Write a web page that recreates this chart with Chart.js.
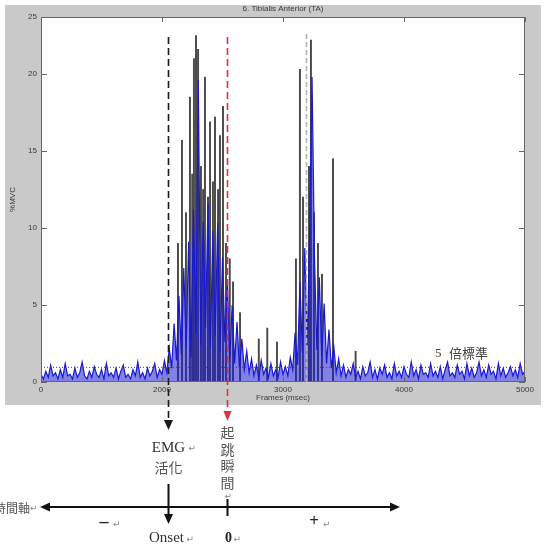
<!DOCTYPE html>
<html>
<head>
<meta charset="utf-8">
<title>6. Tibialis Anterior (TA)</title>
<script src="https://cdn.jsdelivr.net/npm/chart.js@4.4.1/dist/chart.umd.min.js"></script>
<style>
  html, body { margin: 0; padding: 0; background: #fff; }
  canvas { display: block; }
</style>
</head>
<body>
<canvas id="emgChart" width="550" height="556"></canvas>
<script>
// blue trace, one sample every 20 ms starting at frame 1000
const frameStart = 1000;
const frameStep = 20;
const mvcTrace = [
  // 1000 - 2040 resting
  0.5, 0.2, 0.7, 0.3, 1.1, 0.4, 0.6, 0.2, 0.8, 0.3,
  1.2, 0.4, 0.5, 0.2, 0.9, 0.3, 0.6, 1.3, 0.4, 0.2,
  0.7, 0.3, 1.0, 0.5, 0.3, 0.8, 0.2, 1.2, 0.4, 0.6,
  0.3, 0.9, 0.2, 0.7, 1.1, 0.3, 0.5, 0.2, 0.8, 0.4,
  1.3, 0.3, 0.6, 0.2, 0.9, 0.4, 0.7, 1.2, 0.3, 0.8,
  0.5, 1.4, 0.6,
  // 2060 - 2740 first burst
  2.2, 0.9, 3.8, 1.4, 5.6, 1.8, 7.4, 2.3, 9.1, 1.6,
  11.2, 3.1, 19.6, 2.4, 10.4, 3.5, 11.6, 2.2, 9.8, 3.0,
  10.3, 1.9, 8.1, 2.6, 6.4, 1.5, 5.0, 1.2, 3.9, 0.9,
  2.8, 0.8, 2.0, 0.6, 1.5,
  // 2760 - 3060 between bursts
  0.4, 1.1, 0.3, 1.4, 0.5, 0.9, 0.3, 1.2, 0.4, 0.8,
  0.3, 1.3, 0.5, 1.0, 0.4, 1.6,
  // 3080 - 3460 second burst
  0.8, 3.2, 1.1, 6.5, 1.9, 8.7, 2.4, 9.5, 19.8, 8.2,
  2.1, 6.8, 1.7, 5.1, 1.2, 3.4, 0.9, 2.3, 0.6, 1.5,
  // 3480 - 5000 resting
  0.4, 1.1, 0.3, 0.8, 0.5, 1.2, 0.3, 0.7, 0.2, 1.0,
  0.4, 0.6, 1.3, 0.3, 0.8, 0.2, 0.9, 0.5, 1.1, 0.3,
  0.6, 0.2, 1.2, 0.4, 0.7, 0.3, 1.0, 0.5, 0.3, 1.3,
  0.4, 0.8, 0.2, 1.1, 0.5, 0.6, 0.3, 1.2, 0.4, 0.7,
  0.3, 1.0, 0.2, 0.8, 1.3, 0.4, 0.6, 0.3, 1.1, 0.5,
  0.7, 0.2, 1.2, 0.4, 0.9, 0.3, 0.6, 1.3, 0.4, 0.8,
  0.3, 1.1, 0.5, 0.7, 0.2, 1.2, 0.4, 0.9, 0.3, 0.6,
  1.0, 0.4, 0.8, 0.3, 1.2, 0.5, 0.7
];

// dark spikes behind the blue trace
const spikeFrames = [2132, 2165, 2198, 2231, 2250, 2264, 2281, 2298, 2322, 2340,
                     2355, 2380, 2397, 2421, 2438, 2463, 2479, 2504, 2529, 2560,
                     2587, 2645, 2800, 2870, 2950, 3107, 3140, 3165, 3215, 3231,
                     3256, 3289, 3322, 3413, 3600];
const spikeMvc = [9.0, 15.7, 11.0, 18.5, 13.5, 21.0, 22.5, 21.6, 14.0, 12.5,
                  19.8, 12.0, 16.9, 13.0, 17.2, 12.5, 16.0, 17.9, 9.0, 8.0,
                  6.5, 4.5, 2.8, 3.5, 2.6, 8.0, 20.3, 12.0, 14.0, 22.2,
                  11.0, 9.0, 7.0, 14.5, 2.0];

// 5 x SD threshold
const thresholdMvc = 0.95;

// EMG onset, take-off instant, second marker
const markerFrames = [2049, 2535, 3190];
const markerTop = [22.4, 22.4, 22.6];

const xTickValues = [1000, 2000, 3000, 4000, 5000];
const xTickLabels = ['0', '2000', '3000', '4000', '5000'];
const yMax = 23.7;
const yTickValues = [0, 5, 10, 15, 20, yMax];
const yTickLabels = ['0', '5', '10', '15', '20', '25'];

const traceData = mvcTrace.map((v, i) => ({ x: frameStart + i * frameStep, y: v }));
const spikeData = spikeFrames.map((f, i) => ({ x: f, y: spikeMvc[i] }));

Chart.defaults.font.family = "'Liberation Sans', Arial, sans-serif";
Chart.defaults.font.size = 8;
Chart.defaults.color = '#3a3a3a';

const SERIF = "'Liberation Serif', 'Noto Sans CJK TC', serif";
const CJK = "'Noto Sans CJK TC', 'Liberation Serif', serif";

function arrow(ctx, tipX, tipY, angle, len, half) {
    ctx.save();
    ctx.translate(tipX, tipY);
    ctx.rotate(angle);
    ctx.beginPath();
    ctx.moveTo(0, 0);
    ctx.lineTo(-len, -half);
    ctx.lineTo(-len, half);
    ctx.closePath();
    ctx.fill();
    ctx.restore();
}

function returnMark(ctx, x, y) {
    ctx.font = "9px 'DejaVu Sans'";
    ctx.fillStyle = '#888';
    ctx.textAlign = 'left';
    ctx.fillText('\u21B5', x, y);
}

const figurePlugin = {
    id: 'figure',
    beforeDraw(chart) {
        const { ctx, chartArea: a } = chart;
        ctx.save();
        ctx.fillStyle = '#ffffff';
        ctx.fillRect(0, 0, chart.width, chart.height);
        ctx.fillStyle = '#c9c9c9';
        ctx.fillRect(5, 5, 536, 400);
        ctx.fillStyle = '#ffffff';
        ctx.fillRect(a.left, a.top, a.right - a.left, a.bottom - a.top);
        ctx.restore();
    },
    afterDatasetsDraw(chart) {
        const { ctx, chartArea: a, scales: { x, y } } = chart;
        ctx.save();

        // axes box with inward ticks
        ctx.strokeStyle = '#666';
        ctx.lineWidth = 1;
        ctx.strokeRect(a.left + 0.5, a.top + 0.5, a.right - a.left - 1, a.bottom - a.top - 1);
        ctx.beginPath();
        x.ticks.forEach(t => {
            const px = Math.round(x.getPixelForValue(t.value)) + 0.5;
            ctx.moveTo(px, a.top); ctx.lineTo(px, a.top + 5);
            ctx.moveTo(px, a.bottom); ctx.lineTo(px, a.bottom - 5);
        });
        y.ticks.forEach(t => {
            const py = Math.round(y.getPixelForValue(t.value)) + 0.5;
            ctx.moveTo(a.left, py); ctx.lineTo(a.left + 6, py);
            ctx.moveTo(a.right, py); ctx.lineTo(a.right - 6, py);
        });
        ctx.stroke();

        // marker lines, the first two run down into the sketch below
        const colors = ['#1a1a1a', '#e03040', '#b4b4b4'];
        const ends = [419, 410, a.bottom];
        const px = markerFrames.map(f => Math.round(x.getPixelForValue(f)) + 0.5);
        ctx.lineWidth = 1.6;
        markerFrames.forEach((f, i) => {
            ctx.strokeStyle = colors[i];
            ctx.setLineDash(i === 2 ? [5, 3] : [7, 4]);
            ctx.beginPath();
            ctx.moveTo(px[i], y.getPixelForValue(markerTop[i]));
            ctx.lineTo(px[i], ends[i]);
            ctx.stroke();
        });
        ctx.setLineDash([]);
        ctx.fillStyle = colors[0];
        arrow(ctx, px[0], 430, Math.PI / 2, 10, 4.5);
        ctx.fillStyle = colors[1];
        arrow(ctx, px[1], 421, Math.PI / 2, 10, 4);

        // threshold note
        ctx.fillStyle = '#444';
        ctx.textBaseline = 'middle';
        ctx.textAlign = 'left';
        ctx.font = '13px ' + SERIF;
        ctx.fillText('5', 435, 354);
        ctx.font = '13px ' + CJK;
        ctx.fillText('倍標準', 449, 353);

        // EMG activation
        ctx.fillStyle = '#333';
        ctx.textAlign = 'center';
        ctx.font = '15px ' + SERIF;
        ctx.fillText('EMG', px[0], 448);
        returnMark(ctx, px[0] + 20, 449);
        ctx.fillStyle = '#555';
        ctx.textAlign = 'center';
        ctx.font = '14px ' + CJK;
        ctx.fillText('活化', px[0], 468);

        // take-off instant, vertical
        ctx.fillStyle = '#555';
        ['起', '跳', '瞬', '間'].forEach((c, i) => ctx.fillText(c, px[1], 433 + i * 16.5));
        returnMark(ctx, px[1] - 3, 497);

        // time axis
        const ty = 507;
        ctx.strokeStyle = '#111';
        ctx.fillStyle = '#111';
        ctx.lineWidth = 2;
        ctx.beginPath();
        ctx.moveTo(46, ty); ctx.lineTo(394, ty);
        ctx.moveTo(px[1], 499); ctx.lineTo(px[1], 516);
        ctx.moveTo(px[0], 484); ctx.lineTo(px[0], 514);
        ctx.stroke();
        arrow(ctx, 40, ty, Math.PI, 10, 4.5);
        arrow(ctx, 400, ty, 0, 10, 4.5);
        arrow(ctx, px[0], 524, Math.PI / 2, 10, 4.5);

        ctx.fillStyle = '#555';
        ctx.textAlign = 'right';
        ctx.font = '12px ' + CJK;
        ctx.fillText('時間軸', 30, ty + 1);
        returnMark(ctx, 30, ty + 2);

        ctx.fillStyle = '#222';
        ctx.textAlign = 'center';
        ctx.font = 'bold 18px ' + SERIF;
        ctx.fillText('\u2013', 104, 522);
        returnMark(ctx, 113, 525);
        ctx.fillStyle = '#222';
        ctx.textAlign = 'center';
        ctx.font = 'bold 17px ' + SERIF;
        ctx.fillText('+', 314, 522);
        returnMark(ctx, 323, 525);

        ctx.fillStyle = '#333';
        ctx.textAlign = 'center';
        ctx.font = '15px ' + SERIF;
        ctx.fillText('Onset', px[0] - 2, 538);
        returnMark(ctx, px[0] + 18, 540);
        ctx.fillStyle = '#222';
        ctx.textAlign = 'center';
        ctx.font = 'bold 14px ' + SERIF;
        ctx.fillText('0', px[1] + 1, 538);
        returnMark(ctx, px[1] + 6, 540);

        ctx.restore();
    }
};

new Chart(document.getElementById('emgChart'), {
    type: 'line',
    data: {
        datasets: [
            {
                label: '5 SD',
                data: [{ x: xTickValues[0], y: thresholdMvc }, { x: xTickValues[4], y: thresholdMvc }],
                borderColor: '#444',
                borderWidth: 1,
                borderDash: [1, 2],
                pointRadius: 0
            },
            {
                label: 'TA',
                data: traceData,
                borderColor: '#1818d0',
                backgroundColor: 'rgba(28, 28, 205, 0.55)',
                fill: 'origin',
                borderWidth: 1.2,
                pointRadius: 0,
                tension: 0
            },
            {
                type: 'bar',
                label: 'raw',
                data: spikeData,
                backgroundColor: '#4a4a4a',
                borderWidth: 0,
                barThickness: 1.3
            }
        ]
    },
    options: {
        responsive: false,
        animation: false,
        events: [],
        layout: { padding: { left: 5, right: 25, top: 0, bottom: 151 } },
        plugins: {
            legend: { display: false },
            tooltip: { enabled: false },
            title: {
                display: true,
                fullSize: false,
                text: '6. Tibialis Anterior (TA)',
                color: '#3a3a3a',
                font: { size: 8, weight: 'normal', lineHeight: 1 },
                padding: { top: 5, bottom: 4 }
            }
        },
        scales: {
            x: {
                type: 'linear',
                min: xTickValues[0],
                max: xTickValues[4],
                offset: false,
                grid: { display: false, drawTicks: false },
                border: { display: false },
                afterBuildTicks: s => { s.ticks = xTickValues.map(v => ({ value: v })); },
                ticks: { padding: 3, maxRotation: 0, autoSkip: false, callback: (v, i) => xTickLabels[i] },
                title: { display: true, text: 'Frames (msec)', padding: { top: 0, bottom: 2 } },
                afterFit: s => { s.height = 23; }
            },
            y: {
                min: 0,
                max: yMax,
                grid: { display: false, drawTicks: false },
                border: { display: false },
                afterBuildTicks: s => { s.ticks = yTickValues.map(v => ({ value: v })); },
                ticks: { padding: 4, autoSkip: false, callback: (v, i) => yTickLabels[i] },
                title: { display: true, text: '%MVC', padding: { top: 3, bottom: 0 } },
                afterFit: s => { s.width = 36; }
            }
        }
    },
    plugins: [figurePlugin]
});
</script>
</body>
</html>
